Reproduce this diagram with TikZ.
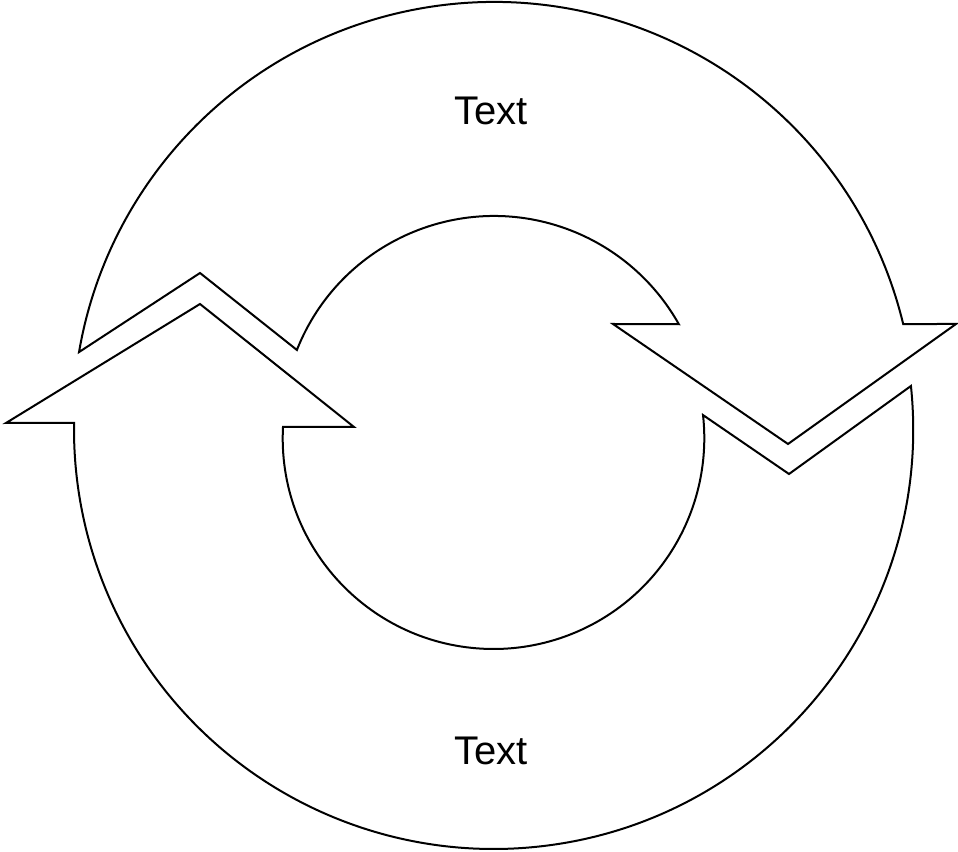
\documentclass[tikz,border=0pt]{standalone}
\usepackage{fontspec}
\setmainfont{Liberation Sans}
\usetikzlibrary{calc}
\begin{document}
\begin{tikzpicture}[x=1pt,y=1pt,
  arrowshape/.style={draw=black, line width=2pt, fill=white, line join=miter},
  lbl/.style={font=\fontsize{40}{48}\selectfont, inner sep=0pt}]
\useasboundingbox (0,0) rectangle (958,851);
\coordinate (cto) at (494,428);
\coordinate (cti) at (494,423);
\coordinate (cbo) at (493.6,421.6);
\coordinate (cbi) at (493.5,412.8);
% top arrow (clockwise, head on the right)
\draw[arrowshape] ([shift={(170.3:421pt)}]cto) -- (200,578)
  -- ([shift={(158.4:212pt)}]cti) arc[start angle=158.4, end angle=29.3, radius=212pt]
  -- (613,527) -- (788,407) -- (956,527)
  -- ([shift={(13.6:421pt)}]cto) arc[start angle=13.6, end angle=170.3, radius=421pt]
  -- cycle;
% bottom arrow (head on the left)
\draw[arrowshape] ([shift={(5.94:419.6pt)}]cbo) arc[start angle=5.94, end angle=-180.9, radius=419.6pt]
  -- (6,428) -- (200,547) -- (354,424)
  -- ([shift={(176.95:210.8pt)}]cbi) arc[start angle=176.95, end angle=366.3, radius=210.8pt]
  -- (789,377) -- cycle;
\node[lbl] (ttop) at (491,740) {Text};
\node[lbl] (tbot) at (491,100) {Text};
\end{tikzpicture}
\end{document}
